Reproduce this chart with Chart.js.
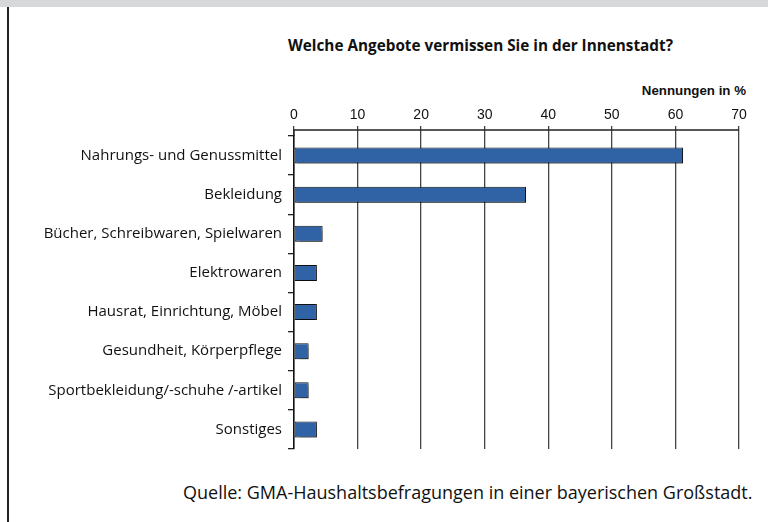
<!DOCTYPE html>
<html>
<head>
<meta charset="utf-8">
<script src="https://cdn.jsdelivr.net/npm/chart.js@4"></script>
<style>
  body { margin: 0; background: #fff; }
  #wrap { position: relative; width: 768px; height: 522px; overflow: hidden; }
  #band { position: absolute; left: 0; top: 0; width: 768px; height: 7px; background: #d7d8d9; }
  #leftline { position: absolute; left: 7px; top: 7px; width: 2px; height: 515px; background: #222; }
  .txt { position: absolute; white-space: nowrap; color: #111; }
  #title { left: 288px; top: 35px; font: bold 15.3px "Open Sans", sans-serif; }
  #unit { right: 22px; top: 83px; font: bold 13.3px "Liberation Sans", Arial, sans-serif; }
  #source { left: 183px; top: 480px; font: 18px "Open Sans", sans-serif; }
  canvas { position: absolute; left: 0; top: 0; }
</style>
</head>
<body>
<div id="wrap">
  <div id="band"></div>
  <div id="leftline"></div>
  <div class="txt" id="title">Welche Angebote vermissen Sie in der Innenstadt?</div>
  <div class="txt" id="unit">Nennungen in %</div>
  <div class="txt" id="source">Quelle: GMA-Haushaltsbefragungen in einer bayerischen Großstadt.</div>
  <canvas id="myChart" width="768" height="522"></canvas>
</div>
<script>
// categories and values (Nennungen in %)
var categories = [
  "Nahrungs- und Genussmittel",
  "Bekleidung",
  "Bücher, Schreibwaren, Spielwaren",
  "Elektrowaren",
  "Hausrat, Einrichtung, Möbel",
  "Gesundheit, Körperpflege",
  "Sportbekleidung/-schuhe /-artikel",
  "Sonstiges",
];
var values = [61.2, 36.5, 4.5, 3.6, 3.6, 2.3, 2.3, 3.6];
var xTicks = [0, 10, 20, 30, 40, 50, 60, 70];

// gray drop shadow under the bars
var barShadow = {
  id: "barShadow",
  beforeDatasetsDraw: function (chart) {
    var c = chart.ctx;
    c.save();
    c.shadowColor = "rgba(0,0,0,0.35)";
    c.shadowOffsetX = 2;
    c.shadowOffsetY = 2;
    c.shadowBlur = 1;
  },
  afterDatasetsDraw: function (chart) {
    chart.ctx.restore();
  },
};

// top axis line sits a little above the first category
var topLine = {
  id: "topLine",
  afterDraw: function (chart) {
    var a = chart.chartArea;
    var c = chart.ctx;
    var y = a.top - 6;
    c.save();
    c.strokeStyle = "#222";
    c.lineWidth = 1.3;
    c.beginPath();
    c.moveTo(a.left - 1, y);
    c.lineTo(a.right, y);
    c.moveTo(a.left, y);
    c.lineTo(a.left, a.top);
    c.stroke();
    c.restore();
  },
};

var ctx = document.getElementById("myChart");
new Chart(ctx, {
  type: "bar",
  data: {
    labels: categories,
    datasets: [
      {
        data: values,
        backgroundColor: "#3063a6",
        borderColor: "#111",
        borderWidth: 1,
        borderSkipped: false,
        categoryPercentage: 1,
        barPercentage: 0.41,
      },
    ],
  },
  options: {
    indexAxis: "y",
    responsive: false,
    animation: false,
    layout: { padding: { left: 0, right: 29, top: 0, bottom: 73 } },
    plugins: {
      legend: { display: false },
      tooltip: { enabled: false },
    },
    scales: {
      x: {
        position: "top",
        min: xTicks[0],
        max: xTicks[xTicks.length - 1],
        afterFit: function (scale) {
          scale.height = 136;
        },
        afterBuildTicks: function (scale) {
          scale.ticks = xTicks.map(function (v) {
            return { value: v };
          });
        },
        ticks: {
          color: "#111",
          padding: 2,
          font: { family: "'Liberation Sans', Arial, sans-serif", size: 14 },
        },
        grid: {
          color: "#444",
          lineWidth: 1.3,
          tickLength: 10,
          tickColor: "#444",
        },
        border: { display: false },
      },
      y: {
        afterFit: function (scale) {
          scale.width = 294;
        },
        ticks: {
          color: "#111",
          padding: 6,
          font: { family: "'Open Sans', sans-serif", size: 15 },
        },
        grid: {
          offset: true,
          drawOnChartArea: false,
          tickLength: 6,
          tickColor: "#222",
          lineWidth: 1.3,
        },
        border: { display: true, color: "#111", width: 1.5 },
      },
    },
  },
  plugins: [barShadow, topLine],
});
</script>
</body>
</html>
